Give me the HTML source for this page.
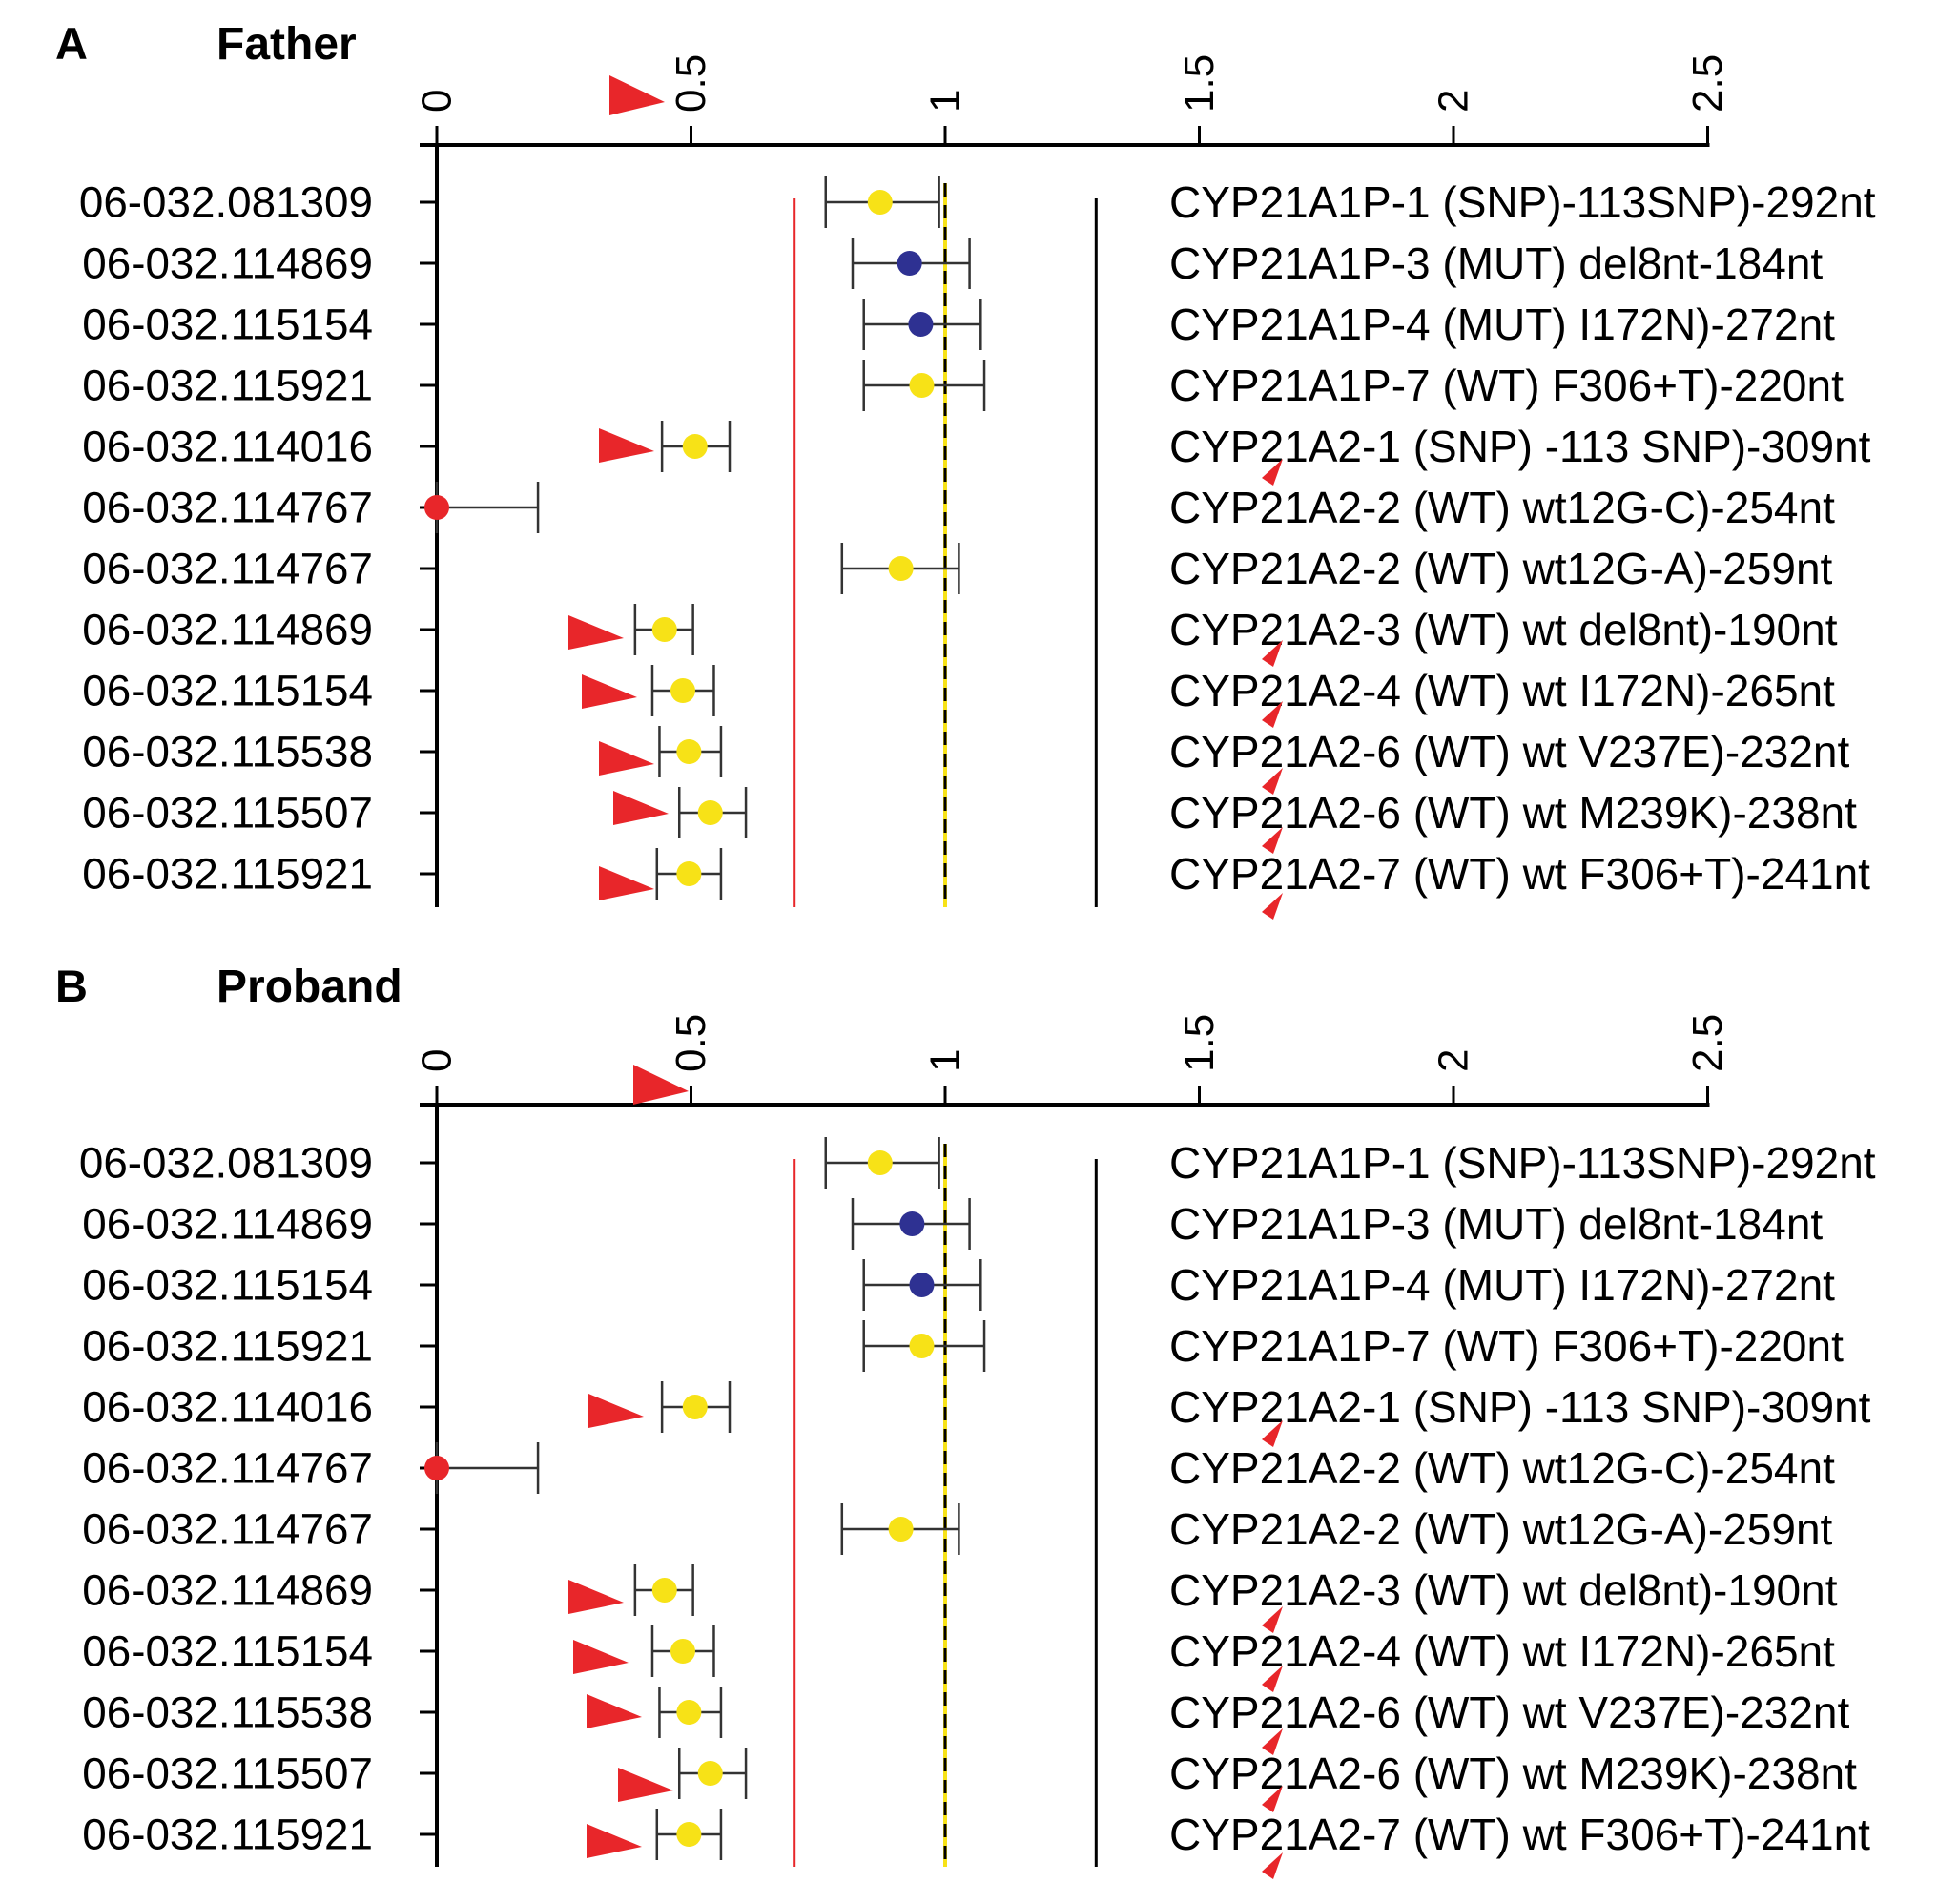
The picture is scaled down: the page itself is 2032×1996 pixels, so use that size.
<!DOCTYPE html>
<html><head><meta charset="utf-8">
<style>
html,body{margin:0;padding:0;background:#fff;}
svg{display:block;font-family:"Liberation Sans",Arial,sans-serif;}
</style></head>
<body>
<svg id="chart" width="2032" height="1996" viewBox="0 0 2032 1996"></svg>
<script>
const probeIds = ["06-032.081309","06-032.114869","06-032.115154","06-032.115921","06-032.114016","06-032.114767","06-032.114767","06-032.114869","06-032.115154","06-032.115538","06-032.115507","06-032.115921"];
const probeNames = ["CYP21A1P-1 (SNP)-113SNP)-292nt","CYP21A1P-3 (MUT) del8nt-184nt","CYP21A1P-4 (MUT) I172N)-272nt","CYP21A1P-7 (WT) F306+T)-220nt","CYP21A2-1 (SNP) -113 SNP)-309nt","CYP21A2-2 (WT) wt12G-C)-254nt","CYP21A2-2 (WT) wt12G-A)-259nt","CYP21A2-3 (WT) wt del8nt)-190nt","CYP21A2-4 (WT) wt I172N)-265nt","CYP21A2-6 (WT) wt V237E)-232nt","CYP21A2-6 (WT) wt M239K)-238nt","CYP21A2-7 (WT) wt F306+T)-241nt"];
const fatherValues = [0.872,0.93,0.952,0.954,0.508,0,0.913,0.448,0.484,0.496,0.538,0.496];
const fatherLow = [0.765,0.818,0.84,0.84,0.443,0,0.797,0.39,0.424,0.438,0.477,0.433];
const fatherHigh = [0.988,1.048,1.07,1.077,0.576,0.199,1.027,0.504,0.545,0.559,0.608,0.559];
const probandValues = [0.872,0.935,0.954,0.954,0.508,0,0.913,0.448,0.484,0.496,0.538,0.496];
const probandLow = [0.765,0.818,0.84,0.84,0.443,0,0.797,0.39,0.424,0.438,0.477,0.433];
const probandHigh = [0.988,1.048,1.07,1.077,0.576,0.199,1.027,0.504,0.545,0.559,0.608,0.559];
const pointColors = ["#f7e217","#2e3192","#2e3192","#f7e217","#f7e217","#e8262a","#f7e217","#f7e217","#f7e217","#f7e217","#f7e217","#f7e217"];
const tickValues = [0,0.5,1,1.5,2,2.5];
const tickLabels = ["0","0.5","1","1.5","2","2.5"];
const lowerThreshold = 0.703;
const upperThreshold = 1.297;
const referenceValue = 1;

const NS="http://www.w3.org/2000/svg";
const svg=document.getElementById('chart');
const X0=458, UNIT=533;
function xs(v){return X0+v*UNIT;}
function mk(tag,attrs,parent){const e=document.createElementNS(NS,tag);for(const k in attrs)e.setAttribute(k,attrs[k]);(parent||svg).appendChild(e);return e;}

const panels=[
 {letter:"A",title:"Father",titleY:62,axisY:152,row0:212,bottom:951,vals:fatherValues,lo:fatherLow,hi:fatherHigh,
  axisTri:[697,107],bigTri:[[686,473],[654,669],[668,731],[686,801],[701,853],[686,932]],smallTri:[[4,497],[7,687],[8,751],[9,821],[10,883],[11,952]]},
 {letter:"B",title:"Proband",titleY:1050,axisY:1158,row0:1219,bottom:1957,vals:probandValues,lo:probandLow,hi:probandHigh,
  axisTri:[722,1144],bigTri:[[675,1485],[654,1680],[659,1743],[673,1800],[706,1877],[673,1936]],smallTri:[[4,1505],[7,1700],[8,1762],[9,1828],[10,1888],[11,1958]]}
];
const ROW=64.0;

panels.forEach((p,pi)=>{
  const g=mk('g',{});
  
  
  let t=mk('text',{x:58,y:p.titleY,'font-size':47,'font-weight':'bold'},g);t.textContent=p.letter;
  
  
  t=mk('text',{x:227,y:p.titleY,'font-size':48,'font-weight':'bold'},g);t.textContent=p.title;
  
  
  const ax=mk('line',{x1:440,x2:xs(2.5)+2,y1:p.axisY,y2:p.axisY,stroke:'#000','stroke-width':4},g);
  
  
  tickValues.forEach((v,i)=>{
    const tk=mk('line',{x1:xs(v),x2:xs(v),y1:p.axisY,y2:p.axisY-20,stroke:'#000','stroke-width':3},g);
    
    
    const lb=mk('text',{x:0,y:0,'font-size':44,'dominant-baseline':'central',transform:`translate(${xs(v)},${p.axisY-34}) rotate(-90)`},g);
    lb.textContent=tickLabels[i];
    
    
  });
  const ya=mk('line',{x1:X0,x2:X0,y1:p.axisY,y2:p.bottom,stroke:'#000','stroke-width':4},g);
  
  
  const topL=p.row0-4;
  let l=mk('line',{x1:xs(lowerThreshold),x2:xs(lowerThreshold),y1:topL,y2:p.bottom,stroke:'#e8262a','stroke-width':3},g);
  
  
  l=mk('line',{x1:xs(upperThreshold),x2:xs(upperThreshold),y1:topL,y2:p.bottom,stroke:'#000','stroke-width':3},g);
  
  
  l=mk('line',{x1:xs(referenceValue),x2:xs(referenceValue),y1:p.row0-20,y2:p.bottom,stroke:'#f7e217','stroke-width':4},g);
  
  
  l=mk('line',{x1:xs(referenceValue),x2:xs(referenceValue),y1:p.row0-20,y2:p.bottom,stroke:'#000','stroke-width':3,'stroke-dasharray':'14 9'},g);
  
  
  probeIds.forEach((id,i)=>{
    const y=p.row0+i*ROW;
    const tk=mk('line',{x1:440,x2:X0,y1:y,y2:y,stroke:'#000','stroke-width':3},g);
    
    
    let tx=mk('text',{x:391,y:y,'font-size':45.8,'text-anchor':'end','dominant-baseline':'central'},g);
    tx.textContent=id;
    
    
    tx=mk('text',{x:1226,y:y,'font-size':46,'dominant-baseline':'central'},g);
    tx.textContent=probeNames[i];
    
    
    const x1=xs(p.lo[i]),x2=xs(p.hi[i]);
    const e=mk('path',{d:`M${x1},${y}H${x2}M${x1},${y-27}V${y+27}M${x2},${y-27}V${y+27}`,stroke:'#333','stroke-width':2.5,fill:'none'},g);
    
    
    const c=mk('circle',{cx:xs(p.vals[i]),cy:y,r:13,fill:pointColors[i]},g);
    
    
  });
  const at=mk('polygon',{points:`${p.axisTri[0]-58},${p.axisTri[1]-28} ${p.axisTri[0]},${p.axisTri[1]} ${p.axisTri[0]-58},${p.axisTri[1]+14}`,fill:'#e8262a'},g);
  
  
  p.bigTri.forEach(([x,y])=>{
    const tr=mk('polygon',{points:`${x-58},${y-24} ${x},${y} ${x-58},${y+12}`,fill:'#e8262a'},g);
    
    
  });
  p.smallTri.forEach(([i,y])=>{
    const x=1333;
    const tr=mk('polygon',{points:`${x+12},${y-16} ${x-10},${y+4} ${x+2},${y+12}`,fill:'#e8262a'},g);
    
    
  });
});
</script>
</body></html>
